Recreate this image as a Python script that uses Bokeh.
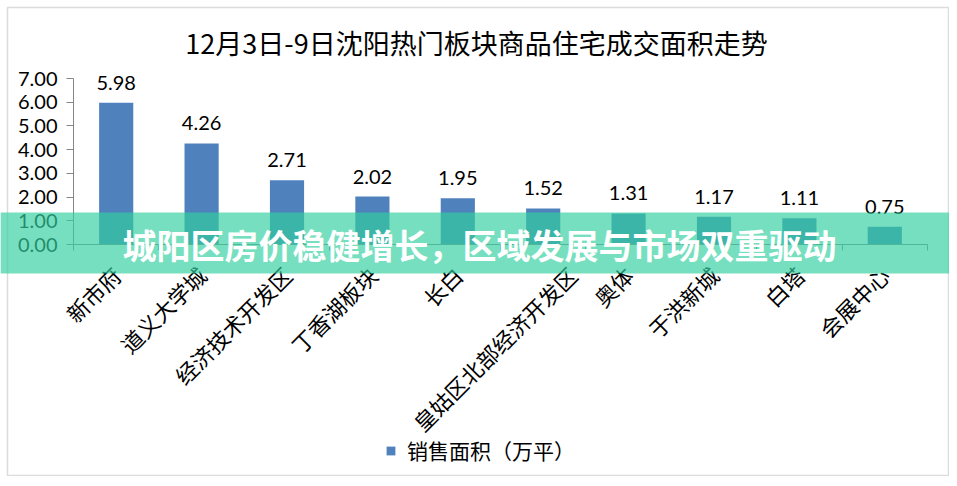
import math
from bokeh.plotting import figure
from bokeh.models import (Range1d, FixedTicker, Legend, LegendItem, ColumnDataSource,
                          BoxAnnotation, Label, Node, PrintfTickFormatter)
from bokeh.core.properties import value
from bokeh.embed import file_html
from bokeh.resources import INLINE

# ---- data ----
categories = ["新市府", "道义大学城", "经济技术开发区", "丁香湖板块", "长白",
              "皇姑区北部经济开发区", "奥体", "于洪新城", "白塔", "会展中心"]
values = [5.98, 4.26, 2.71, 2.02, 1.95, 1.52, 1.31, 1.17, 1.11, 0.75]
y_ticks = [0, 1, 2, 3, 4, 5, 6, 7]
series_name = "销售面积（万平）"
title_text = "12月3日-9日沈阳热门板块商品住宅成交面积走势"
banner_text = "城阳区房价稳健增长，区域发展与市场双重驱动"

CJK = "Noto Sans CJK SC"
NUM = "Lato"
AXIS_COLOR = "#868686"
BAR_COLOR = "#4f81bd"

# ---- layout (canvas pixels) ----
W, H = 949, 476
PLOT_L, PLOT_R = 73, 927      # x pixels of category 0 start / last end
PLOT_T, PLOT_B = 78, 244      # y pixels of top tick / zero line
LONG_LABEL_SHIFT_PX = 29      # the reference nudges its longest category label right

n = len(categories)
ymax = max(y_ticks)
xpx = (PLOT_R - PLOT_L) / n
ypx = (PLOT_B - PLOT_T) / ymax

xs = [i + 0.5 for i in range(n)]
src = ColumnDataSource(dict(x=xs, v=values, lab=["%.2f" % v for v in values]))

# label anchor positions (longest label nudged as in the reference)
longest = max(range(n), key=lambda i: len(categories[i]))
label_pos = [x + (LONG_LABEL_SHIFT_PX / xpx if i == longest else 0) for i, x in enumerate(xs)]

p = figure(width=W, height=H,
           x_range=Range1d(-PLOT_L / xpx, (W - PLOT_L) / xpx),
           y_range=Range1d(-(H - PLOT_B) / ypx, PLOT_B / ypx),
           output_backend="svg", toolbar_location=None,
           min_border_left=0, min_border_right=0, min_border_top=0, min_border_bottom=0)

p.xgrid.grid_line_color = None
p.ygrid.grid_line_color = None
p.outline_line_color = None
p.background_fill_color = "white"
p.border_fill_color = "white"

# x axis (pinned to y = 0)
xa = p.xaxis[0]
xa.fixed_location = 0
xa.bounds = (0, n)
xa.ticker = FixedTicker(ticks=label_pos, minor_ticks=list(range(n + 1)))
xa.major_label_overrides = {x: c for x, c in zip(label_pos, categories)}
xa.major_tick_line_color = None
xa.major_tick_in = 0
xa.major_tick_out = 0
xa.minor_tick_in = 0
xa.minor_tick_out = 6
xa.minor_tick_line_color = AXIS_COLOR
xa.axis_line_color = AXIS_COLOR
xa.major_label_orientation = math.pi / 4
xa.major_label_standoff = 20
xa.major_label_text_font = CJK
xa.major_label_text_font_size = "22px"
xa.major_label_text_color = "#000000"

# y axis (pinned to x = 0)
ya = p.yaxis[0]
ya.fixed_location = 0
ya.bounds = (0, ymax)
ya.ticker = FixedTicker(ticks=y_ticks)
ya.formatter = PrintfTickFormatter(format="%.2f")
ya.major_tick_in = 0
ya.major_tick_out = 7
ya.minor_tick_line_color = None
ya.major_tick_line_color = AXIS_COLOR
ya.axis_line_color = AXIS_COLOR
ya.major_label_standoff = 9
ya.major_label_text_font = NUM
ya.major_label_text_font_size = "20px"
ya.major_label_text_color = "#000000"

bars = p.vbar(x="x", top="v", width=0.4, source=src, fill_color=BAR_COLOR, line_color=None)
p.text(x="x", y="v", text="lab", source=src, y_offset=-20, text_align="center",
       text_baseline="alphabetic", text_font=value(NUM), text_font_size="20px",
       text_color="#000000")

# title
p.add_layout(Label(x=Node(target="canvas", symbol="left", offset=476),
                   y=Node(target="canvas", symbol="top", offset=42),
                   text=title_text, text_align="center", text_baseline="middle",
                   text_font=CJK, text_font_size="27px", text_color="#000000"))

legend = Legend(items=[LegendItem(label=series_name, renderers=[bars])],
                location=(385, H - 465), orientation="horizontal",
                glyph_width=11, glyph_height=11, label_standoff=11, padding=0, margin=0,
                spacing=0, label_height=24, label_text_font=CJK, label_text_font_size="21px",
                label_text_color="#000000", border_line_color=None, background_fill_alpha=0)
p.add_layout(legend, "center")

# outer border
p.add_layout(BoxAnnotation(left=Node(target="canvas", symbol="left", offset=7),
                           right=Node(target="canvas", symbol="right", offset=-1),
                           top=Node(target="canvas", symbol="top", offset=7),
                           bottom=Node(target="canvas", symbol="bottom", offset=-1),
                           fill_color=None, line_color="#8a8a8a", line_width=1.5,
                           level="overlay"))

# banner overlay
p.add_layout(BoxAnnotation(top=Node(target="canvas", symbol="top", offset=212),
                           bottom=Node(target="canvas", symbol="top", offset=273),
                           fill_color="#32d0a0", fill_alpha=0.67, line_color=None,
                           level="overlay"))
p.add_layout(Label(x=Node(target="canvas", symbol="left", offset=479),
                   y=Node(target="canvas", symbol="top", offset=244),
                   text=banner_text, text_align="center", text_baseline="middle",
                   text_color="white", text_font=CJK, text_font_size="34px",
                   text_font_style="bold", level="overlay"))

open("out.html", "w").write(file_html(p, INLINE))
